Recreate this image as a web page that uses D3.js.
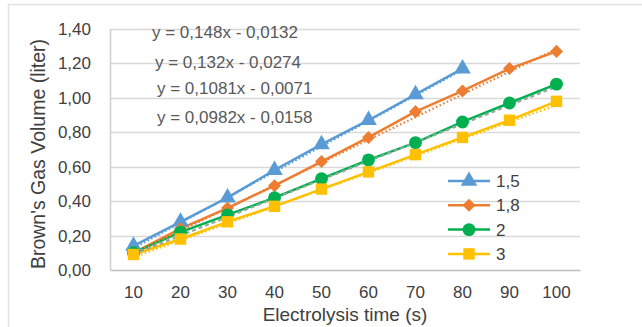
<!DOCTYPE html>
<html>
<head>
<meta charset="utf-8">
<script src="https://cdn.jsdelivr.net/npm/d3@7"></script>
<style>
  html, body { margin: 0; padding: 0; background: #fff; }
  svg { display: block; font-family: "Liberation Sans", Arial, sans-serif; }
</style>
</head>
<body>
<div id="chart"></div>
<script>
// categories (electrolysis time, s)
const times = [10, 20, 30, 40, 50, 60, 70, 80, 90, 100];

// series values (liter)
const series15 = [0.14, 0.28, 0.42, 0.58, 0.73, 0.87, 1.02, 1.17];
const series18 = [0.10, 0.24, 0.36, 0.49, 0.63, 0.77, 0.92, 1.04, 1.17, 1.27];
const series2 = [0.10, 0.22, 0.32, 0.42, 0.53, 0.64, 0.74, 0.86, 0.97, 1.08];
const series3 = [0.09, 0.18, 0.28, 0.37, 0.47, 0.57, 0.67, 0.77, 0.87, 0.98];

const seriesNames = ["1,5", "1,8", "2", "3"];

// trendline coefficients shown on the chart (x = point index, 1-based)
const slopes = [0.148, 0.132, 0.1081, 0.0982];
const intercepts = [-0.0132, -0.0274, -0.0071, -0.0158];
const equationLabels = [
    "y = 0,148x - 0,0132",
    "y = 0,132x - 0,0274",
    "y = 0,1081x - 0,0071",
    "y = 0,0982x - 0,0158",
];

const yTicks = [0, 0.2, 0.4, 0.6, 0.8, 1.0, 1.2, 1.4];

const colors = ["#5B9BD5", "#ED7D31", "#00B050", "#FFC000"];
// diamond is drawn as a square turned by 45 degrees
const symbols = [d3.symbolTriangle, d3.symbolSquare, d3.symbolCircle, d3.symbolSquare];
const symbolRotate = [0, 45, 0, 0];
const symbolSizes = [120, 85, 130, 130];

const width = 642;
const height = 327;
const plot = { left: 110, right: 580, top: 29, bottom: 270 };

const svg = d3.select("#chart")
    .append("svg")
    .attr("width", width)
    .attr("height", height);

// outer frame (only top and left edges visible)
svg.append("path")
    .attr("d", `M8.5,${height} V4.5 H${width}`)
    .attr("fill", "none")
    .attr("stroke", "#e3e3e3")
    .attr("stroke-width", 1.5);

const x = d3.scaleBand()
    .domain(times)
    .range([plot.left, plot.right]);

const y = d3.scaleLinear()
    .domain([0, 1.4])
    .range([plot.bottom, plot.top]);

// gridlines
svg.append("g")
    .selectAll("line")
    .data(yTicks.slice(1))
    .join("line")
    .attr("x1", plot.left)
    .attr("x2", plot.right)
    .attr("y1", (d) => Math.round(y(d)) + 0.5)
    .attr("y2", (d) => Math.round(y(d)) + 0.5)
    .attr("stroke", "#d9d9d9")
    .attr("stroke-width", 1.5);

// left axis line
svg.append("line")
    .attr("x1", plot.left + 0.5)
    .attr("x2", plot.left + 0.5)
    .attr("y1", plot.top)
    .attr("y2", plot.bottom)
    .attr("stroke", "#cfcfcf")
    .attr("stroke-width", 1.5);

// y axis labels
const yAxis = d3.axisLeft(y)
    .tickValues(yTicks)
    .tickSize(0)
    .tickPadding(19)
    .tickFormat((d) => d3.format(".2f")(d).replace(".", ","));

svg.append("g")
    .attr("transform", `translate(${plot.left},0)`)
    .call(yAxis)
    .call((g) => g.select(".domain").remove())
    .call((g) => g.selectAll("text")
        .attr("font-size", 17)
        .attr("font-family", "Liberation Sans, Arial, sans-serif")
        .attr("fill", "#404040"));

// x axis
const xAxis = d3.axisBottom(x)
    .tickSize(0)
    .tickPadding(16);

svg.append("g")
    .attr("transform", `translate(0,${plot.bottom})`)
    .call(xAxis)
    .call((g) => g.select(".domain")
        .attr("stroke", "#bfbfbf")
        .attr("stroke-width", 1.5))
    .call((g) => g.selectAll("text")
        .attr("font-size", 17)
        .attr("font-family", "Liberation Sans, Arial, sans-serif")
        .attr("fill", "#404040"));

// axis titles
svg.append("text")
    .attr("x", (plot.left + plot.right) / 2)
    .attr("y", 321)
    .attr("text-anchor", "middle")
    .attr("font-size", 19)
    .attr("fill", "#404040")
    .text("Electrolysis time (s)");

svg.append("text")
    .attr("transform", `translate(45,${(38 + 270) / 2}) rotate(-90)`)
    .attr("text-anchor", "middle")
    .attr("font-size", 19.5)
    .attr("fill", "#404040")
    .text("Brown's Gas Volume (liter)");

const allSeries = [series15, series18, series2, series3];
const cx = (i) => x(times[i]) + x.bandwidth() / 2;

const line = d3.line()
    .x((d, i) => cx(i))
    .y((d) => y(d));

// series lines
allSeries.forEach((values, s) => {
    svg.append("path")
        .datum(values)
        .attr("d", line)
        .attr("fill", "none")
        .attr("stroke", colors[s])
        .attr("stroke-width", 2.5)
        .attr("stroke-linejoin", "round");
});

// linear trendlines (dotted)
const trendStyles = [
    { color: colors[0], dash: "1.5,2.5" },
    { color: colors[1], dash: "1.5,2.5" },
    { color: "#8fa89a", dash: "4,3" },
    { color: colors[3], dash: "1.5,2.5" },
];

allSeries.forEach((values, s) => {
    const n = values.length;
    const ends = [0, n - 1].map((i) => [cx(i), y(slopes[s] * (i + 1) + intercepts[s])]);
    svg.append("path")
        .attr("d", d3.line()(ends))
        .attr("fill", "none")
        .attr("stroke", trendStyles[s].color)
        .attr("stroke-width", 2.2)
        .attr("stroke-dasharray", trendStyles[s].dash)
        .attr("transform", "translate(0,1.5)");
});

// markers
allSeries.forEach((values, s) => {
    svg.append("g")
        .selectAll("path")
        .data(values)
        .join("path")
        .attr("transform", (d, i) => `translate(${cx(i)},${y(d)}) rotate(${symbolRotate[s]})`)
        .attr("d", d3.symbol().type(symbols[s]).size(symbolSizes[s]))
        .attr("fill", colors[s]);
});

// trendline equations
const eqPos = [[152, 38], [155, 68], [157, 94], [157, 123]];
svg.append("g")
    .selectAll("text")
    .data(equationLabels)
    .join("text")
    .attr("x", (d, i) => eqPos[i][0])
    .attr("y", (d, i) => eqPos[i][1])
    .attr("font-size", 17)
    .attr("fill", "#595959")
    .text((d) => d);

// legend
const legend = svg.append("g")
    .selectAll("g")
    .data(seriesNames)
    .join("g")
    .attr("transform", (d, i) => `translate(448,${181 + i * 24.3})`);

legend.append("line")
    .attr("x1", 0)
    .attr("x2", 42)
    .attr("stroke", (d, i) => colors[i])
    .attr("stroke-width", 2.5);

legend.append("path")
    .attr("transform", (d, i) => `translate(21,0) rotate(${symbolRotate[i]})`)
    .attr("d", (d, i) => d3.symbol().type(symbols[i]).size(symbolSizes[i])())
    .attr("fill", (d, i) => colors[i]);

legend.append("text")
    .attr("x", 48)
    .attr("dy", "0.36em")
    .attr("font-size", 17)
    .attr("fill", "#404040")
    .text((d) => d);
</script>
</body>
</html>
